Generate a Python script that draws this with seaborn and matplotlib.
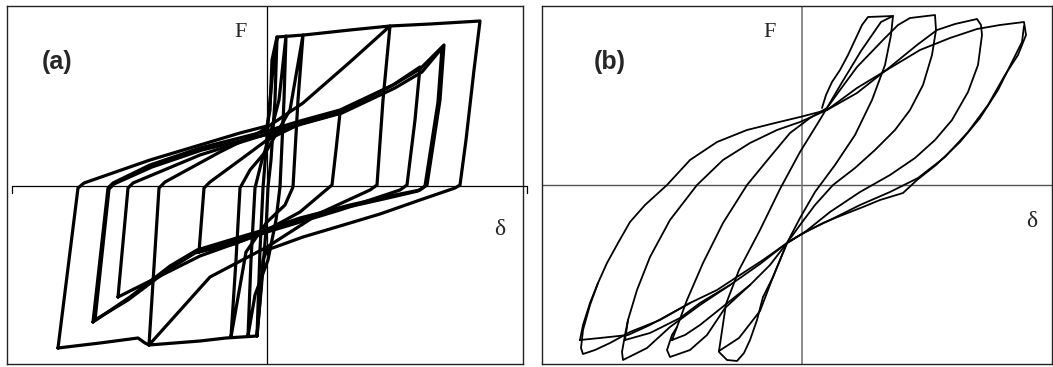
import matplotlib
matplotlib.use("Agg")
import matplotlib.pyplot as plt
import pandas as pd
import seaborn as sns

sns.set_theme(style="white")
plt.rcParams["font.family"] = ["Liberation Sans", "DejaVu Sans"]

# ---------------- (a) slip-type hysteresis loops: displacement d, force F ----------------
a_outer_d = [-209, -189, -183, -117, -67, -27, 0, 3, 5, 10, 37, 83, 123, 163, 213, 207, 199, 193, 188, 153, 113, 73, 36, 0, -4, -7, -10, -41, -67, -118, -122, -129, -167, -209]
a_outer_f = [-162, -2, 3, 26, 41, 53, 60, 76, 126, 149, 151, 156, 160, 162, 165, 116, 46, 1, -2, -14, -28, -40, -51, -64, -74, -114, -150, -152, -155, -159, -157, -152, -157, -162]

a_loop2_d = [-174, -159, -154, -117, -67, 0, 33, 73, 126, 153, 177, 173, 160, 153, 123, 83, 33, 0, -37, -70, -97, -137, -174]
a_loop2_f = [-136, -2, 3, 21, 38, 55, 65, 76, 101, 117, 141, 86, 1, -4, -10, -19, -32, -43, -54, -64, -80, -111, -136]

a_loop2b_d = [-172, -158, -153, -115, -65, 2, 35, 75, 128, 155, 175, 171, 158, 151, 121, 81, 31, -2, -39, -72, -99, -139, -172]
a_loop2b_f = [-134, -3, 2, 19, 36, 52, 62, 73, 98, 114, 138, 84, 0, -5, -12, -21, -35, -46, -57, -67, -84, -114, -134]

a_loop3_d = [-149, -139, -134, -67, 0, 33, 73, 126, 153, 148, 140, 133, 73, 0, -67, -107, -139, -149]
a_loop3_f = [-111, -2, 3, 31, 52, 62, 74, 101, 119, 66, 1, -4, -24, -46, -70, -90, -106, -111]

a_loop4_d = [-68, -63, -57, -27, 0, 33, 73, 69, 65, 59, 33, 0, -33, -68]
a_loop4_f = [-66, -2, 4, 26, 46, 62, 73, 36, 1, -4, -26, -44, -58, -66]

a_loop5_d = [-118, -108, -102, -47, -7, 36, 83, 123, 116, 110, 103, 53, 0, -57, -118]
a_loop5_f = [-159, -2, 4, 34, 54, 83, 124, 160, 86, 1, -4, -27, -61, -91, -159]

a_loop6_d = [-10, -7, -4, -1, 2, 6, 10, 8, 4, 1, -1, -5, -10]
a_loop6_f = [-150, -64, -2, 36, 76, 116, 149, 86, 26, -1, -44, -94, -150]

a_loop7_d = [-19, -16, -12, -5, 3, 12, 19, 17, 13, 9, 1, -12, -19]
a_loop7_f = [-150, -74, -2, 26, 51, 86, 150, 86, -1, -34, -74, -109, -150]

a_loop8_d = [-36, -31, -27, -17, 0, 23, 36, 31, 26, 18, 0, -21, -36]
a_loop8_f = [-151, -74, -2, 16, 36, 76, 151, 86, -1, -19, -36, -66, -151]

# ---------------- (b) pinched leaf-shaped loops ----------------
b_loop4_d = [-222, -219, -212, -204, -195, -184, -172, -157, -135, -112, -85, -55, -27, -2, 25, 55, 88, 118, 148, 175, 198, 222,
             224, 216, 203, 186, 166, 143, 116, 88, 58, 28, 3, -15, -39, -59, -85, -112, -152, -174, -202, -222]
b_loop4_f = [-155, -140, -118, -98, -78, -58, -37, -20, 0, 25, 43, 55, 62, 68, 75, 97, 117, 135, 147, 156, 160, 163,
             150, 130, 110, 80, 53, 28, 7, -7, -20, -35, -47, -58, -75, -88, -105, -118, -140, -150, -153, -155]

b_loop4c_d = [222, 220, 210, 196, 178, 158, 134, 115, 101, 78, 61, 38, 21, -2, -15]
b_loop4c_f = [159, 143, 123, 95, 67, 43, 20, 5, -8, -15, -22, -31, -38, -50, -58]

b_tail4_d = [-112, -142, -172, -192, -207, -219, -221, -219, -212, -204]
b_tail4_f = [-118, -135, -147, -158, -165, -169, -163, -145, -120, -98]

b_loop3_d = [-177, -174, -165, -152, -132, -105, -79, -52, -25, -2, 25, 55, 88, 115, 135, 153, 175, 179,
             180, 176, 166, 150, 133, 113, 88, 58, 28, 3, -15, -42, -72, -102, -122, -152, -177]
b_loop3_f = [-155, -135, -105, -72, -35, 0, 25, 42, 55, 63, 75, 92, 118, 140, 155, 161, 166, 160,
             150, 120, 93, 65, 45, 27, 10, -7, -27, -47, -58, -79, -100, -118, -133, -148, -155]

b_tail3_d = [-72, -102, -132, -155, -179, -180, -177, -174]
b_tail3_f = [-100, -120, -142, -163, -175, -167, -150, -135]

b_loop2_d = [-130, -125, -115, -99, -79, -55, -32, -12, 8, 25, 38, 55, 81, 96, 108, 133,
             134, 130, 121, 108, 93, 73, 53, 31, 13, -2, -15, -32, -52, -77, -102, -117, -130]
b_loop2_f = [-155, -142, -115, -78, -38, 0, 28, 52, 67, 77, 95, 118, 145, 160, 167, 170,
             155, 130, 100, 75, 55, 35, 17, 0, -20, -40, -58, -80, -100, -120, -140, -150, -155]

b_tail2_d = [-52, -77, -95, -112, -132, -135, -130, -125]
b_tail2_f = [-100, -123, -150, -165, -172, -165, -150, -142]

b_loop1_d = [-83, -76, -63, -42, -22, -2, 19, 39, 59, 79, 91,
             89, 83, 70, 53, 33, 13, -2, -15, -29, -42, -63, -83]
b_loop1_f = [-166, -119, -85, -45, -4, 33, 67, 101, 134, 163, 169,
             150, 120, 85, 50, 20, -7, -33, -58, -92, -126, -153, -166]

b_env1_d = [-83, -75, -65, -58, -52, -45, -39, -29, -15]
b_env1_f = [-167, -175, -176, -168, -155, -135, -112, -92, -58]

b_env2_d = [20, 24, 30, 38, 46, 53, 60, 66, 91]
b_env2_f = [77, 90, 103, 115, 130, 145, 160, 168, 169]


def frame(name, d, f):
    return pd.DataFrame({"d": d, "F": f, "loop": name})


df_a = pd.concat([
    frame("outer", a_outer_d, a_outer_f),
    frame("l2", a_loop2_d, a_loop2_f),
    frame("l2b", a_loop2b_d, a_loop2b_f),
    frame("l3", a_loop3_d, a_loop3_f),
    frame("l4", a_loop4_d, a_loop4_f),
    frame("l5", a_loop5_d, a_loop5_f),
    frame("l6", a_loop6_d, a_loop6_f),
    frame("l7", a_loop7_d, a_loop7_f),
    frame("l8", a_loop8_d, a_loop8_f),
], ignore_index=True)

df_b = pd.concat([
    frame("b4", b_loop4_d, b_loop4_f),
    frame("b4c", b_loop4c_d, b_loop4c_f),
    frame("t4", b_tail4_d, b_tail4_f),
    frame("b3", b_loop3_d, b_loop3_f),
    frame("t3", b_tail3_d, b_tail3_f),
    frame("b2", b_loop2_d, b_loop2_f),
    frame("t2", b_tail2_d, b_tail2_f),
    frame("b1", b_loop1_d, b_loop1_f),
    frame("e1", b_env1_d, b_env1_f),
    frame("e2", b_env2_d, b_env2_f),
], ignore_index=True)

W, H = 1053, 367
fig = plt.figure(figsize=(W / 100, H / 100), dpi=100)
fig.patch.set_facecolor("white")

ax_a = fig.add_axes([7 / W, (H - 364) / H, (523 - 7) / W, (364 - 6) / H])
ax_b = fig.add_axes([542 / W, (H - 364) / H, (1052 - 542) / W, (364 - 6) / H])

# coordinate axes through the origin
ax_a.plot([-255, 260], [0, 0], color="black", lw=0.9, clip_on=False, zorder=1)
ax_a.plot([-255, -255], [0, -7], color="black", lw=0.9, clip_on=False, zorder=1)
ax_a.plot([260, 260], [0, -7], color="black", lw=0.9, clip_on=False, zorder=1)
ax_a.axvline(0, color="black", lw=0.9, zorder=1)
ax_b.axhline(0, color="#555555", lw=1.0, zorder=1)
ax_b.axvline(0, color="#777777", lw=1.2, zorder=1)

sns.lineplot(data=df_a, x="d", y="F", units="loop", estimator=None, sort=False,
             color="black", lw=2.3, ax=ax_a, legend=False,
             solid_joinstyle="round", solid_capstyle="round")
sns.lineplot(data=df_b, x="d", y="F", units="loop", estimator=None, sort=False,
             color="black", lw=1.3, ax=ax_b, legend=False,
             solid_joinstyle="round")

ax_a.set_xlim(-260, 256)
ax_a.set_ylim(-178, 180)
ax_b.set_xlim(-260, 250)
ax_b.set_ylim(-179, 179)

for ax in (ax_a, ax_b):
    ax.set_xticks([])
    ax.set_yticks([])
    ax.set_xlabel("")
    ax.set_ylabel("")
    for s in ax.spines.values():
        s.set_color("#222222")
        s.set_linewidth(1.0)
        s.set_visible(True)

serif = ["Liberation Serif", "DejaVu Serif"]
ax_a.text(0.097, 0.844, "(a)", transform=ax_a.transAxes, ha="center", va="center",
          fontsize=18, fontweight="bold")
ax_a.text(0.452, 0.927, "F", transform=ax_a.transAxes, ha="center", va="center",
          fontsize=16, family=serif)
ax_a.text(0.955, 0.377, "δ", transform=ax_a.transAxes, ha="center", va="center",
          fontsize=17, family=serif)
ax_b.text(0.133, 0.844, "(b)", transform=ax_b.transAxes, ha="center", va="center",
          fontsize=18, fontweight="bold")
ax_b.text(0.447, 0.927, "F", transform=ax_b.transAxes, ha="center", va="center",
          fontsize=16, family=serif)
ax_b.text(0.961, 0.397, "δ", transform=ax_b.transAxes, ha="center", va="center",
          fontsize=17, family=serif)

fig.savefig("out.png", dpi=100, facecolor="white")
